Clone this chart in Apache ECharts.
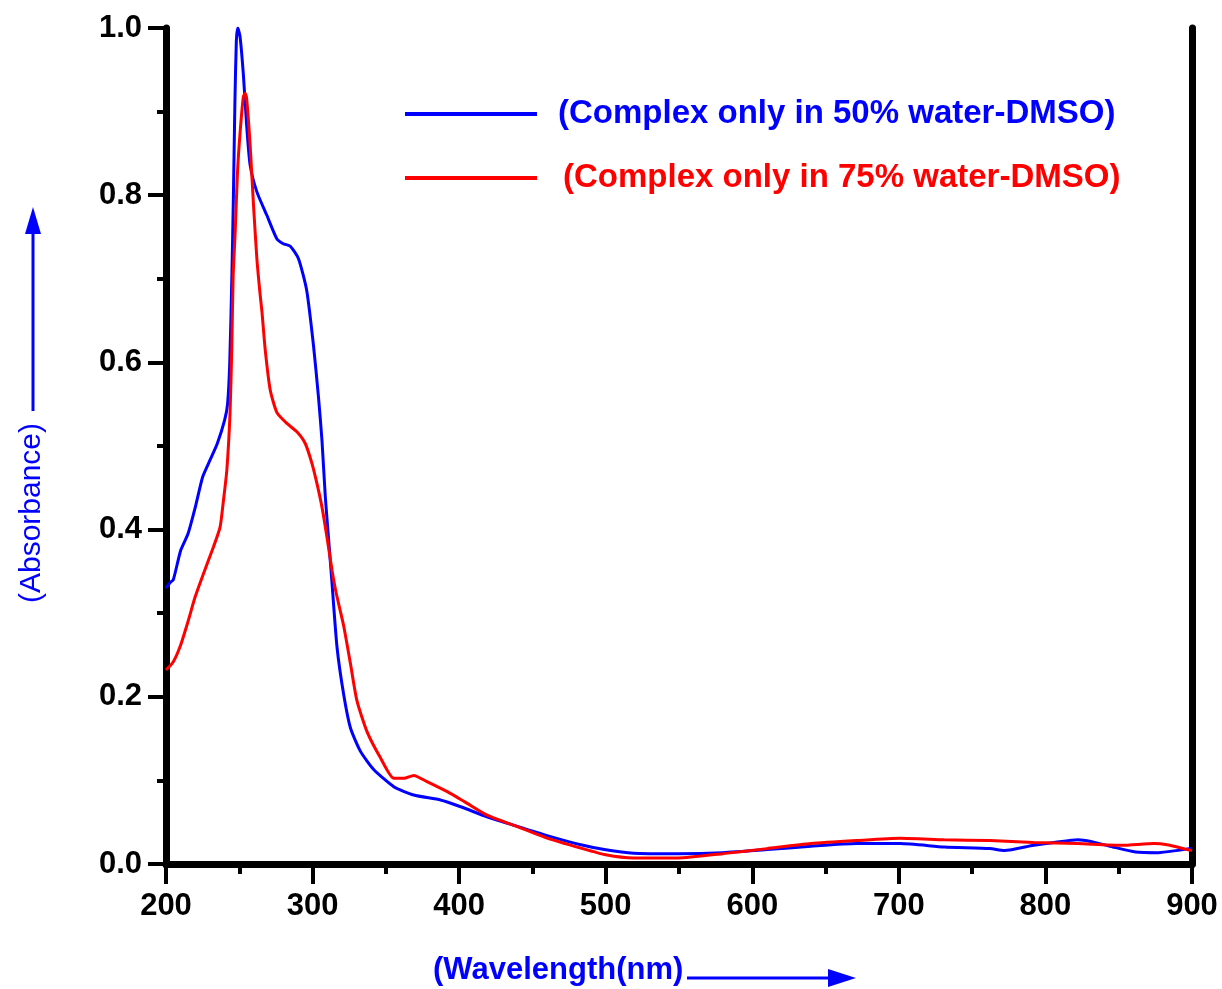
<!DOCTYPE html>
<html>
<head>
<meta charset="utf-8">
<title>UV-Vis absorbance</title>
<script src="https://cdn.jsdelivr.net/npm/echarts@6/dist/echarts.min.js"></script>
<style>
  html, body { margin: 0; padding: 0; background: #ffffff; }
  #chart { width: 1222px; height: 989px; }
</style>
</head>
<body>
<div id="chart"></div>
<script>
// Absorption spectra, wavelength in nm
const wl50 = [200, 203, 205, 210, 215, 220, 225, 230, 235, 240, 242, 243.5, 245, 246, 247, 248, 249, 250.5,
  252.8, 255, 257.4, 262, 268.8, 275.6, 280, 284.8, 290.4, 296, 300.7, 304, 306.4, 308.7, 311, 313.3,
  316.7, 321.2, 325.8, 332.6, 341.7, 355.4, 369, 387.3, 401, 419, 437, 460, 483, 500, 519, 549.5, 580,
  610, 640, 671, 701, 731, 762, 772, 792, 807, 822, 831, 846, 861.5, 877, 889, 900];
const abs50 = [0.330, 0.337, 0.340, 0.375, 0.395, 0.427, 0.463, 0.483, 0.503, 0.531, 0.550, 0.600, 0.708, 0.800, 0.910, 0.985, 1.000, 0.990,
  0.944, 0.884, 0.836, 0.804, 0.776, 0.748, 0.742, 0.739, 0.724, 0.686, 0.619, 0.559, 0.507, 0.439, 0.387, 0.335,
  0.259, 0.203, 0.163, 0.135, 0.113, 0.0925, 0.0825, 0.0765, 0.0685, 0.0565, 0.0465, 0.034, 0.023, 0.017, 0.013, 0.0124, 0.0136,
  0.0172, 0.0212, 0.0244, 0.0244, 0.0204, 0.0184, 0.016, 0.0224, 0.026, 0.029, 0.027, 0.0204, 0.0144, 0.0136, 0.016, 0.019];

const wl75 = [200, 205, 210, 215, 219.8, 225.5, 232.3, 236.9, 239.2, 241.5, 243.7, 244.9, 245.8, 247.2, 248.8, 250.6,
  252.8, 254, 255, 257.4, 259.7, 262, 264, 265.5, 267.7, 271.1, 275.7, 282.5, 289.3, 295, 299.6, 303, 306.4,
  309.8, 313.3, 316, 321.2, 325.8, 330.3, 337.2, 346.3, 355.4, 362.2, 369, 378, 391.9, 405.5, 419, 437, 460,
  483, 500, 519, 549.5, 580, 610, 640, 671, 701, 731, 762, 792, 822, 852, 874, 883, 895, 900];
const abs75 = [0.232, 0.242, 0.262, 0.290, 0.319, 0.347, 0.379, 0.403, 0.435, 0.471, 0.540, 0.619, 0.703, 0.756, 0.828, 0.876,
  0.918, 0.922, 0.916, 0.860, 0.788, 0.724, 0.685, 0.660, 0.615, 0.567, 0.540, 0.527, 0.517, 0.503, 0.479, 0.455, 0.427,
  0.391, 0.351, 0.325, 0.285, 0.240, 0.195, 0.158, 0.127, 0.1025, 0.1025, 0.106, 0.0986, 0.0865, 0.0725, 0.0585, 0.0465, 0.031,
  0.019, 0.011, 0.0072, 0.0072, 0.0124, 0.0184, 0.0244, 0.028, 0.0308, 0.029, 0.028, 0.0256, 0.0244, 0.0224, 0.0244, 0.023, 0.018, 0.016];

const seriesNames = ['(Complex only in 50% water-DMSO)', '(Complex only in 75% water-DMSO)'];
const seriesColors = ['#0000ff', '#ff0000'];
const xTitle = '(Wavelength(nm)';
const yTitle = '(Absorbance)';

function pairs(xs, ys) { return xs.map((x, i) => [x, ys[i]]); }

const FONT = '"Liberation Sans", Arial, sans-serif';
const axisLineStyle = { color: '#000', width: 7 };

const chart = echarts.init(document.getElementById('chart'), null, { renderer: 'canvas' });
chart.setOption({
  backgroundColor: '#ffffff',
  animation: false,
  grid: { left: 166, right: 30, top: 28, bottom: 125 },
  legend: {
    orient: 'vertical',
    left: 405,
    top: 94,
    padding: 0,
    icon: 'rect',
    itemWidth: 132,
    itemHeight: 4,
    itemGap: 24,
    textStyle: { fontFamily: FONT, fontWeight: 'bold', fontSize: 33, lineHeight: 40 },
    data: [
      { name: seriesNames[0], textStyle: { color: seriesColors[0], padding: [0, 0, 0, 16] } },
      { name: seriesNames[1], textStyle: { color: seriesColors[1], padding: [0, 0, 0, 21] } }
    ]
  },
  xAxis: [{
    type: 'value', min: 200, max: 900, interval: 100, position: 'bottom',
    axisLine: { show: true, lineStyle: axisLineStyle },
    axisTick: { show: true, inside: false, length: 20, lineStyle: { color: '#000', width: 4 } },
    minorTick: { show: true, splitNumber: 2, length: 10, lineStyle: { color: '#000', width: 4 } },
    axisLabel: { margin: 27, color: '#000', fontFamily: FONT, fontWeight: 'bold', fontSize: 31 },
    splitLine: { show: false }
  }, {
    type: 'value', min: 200, max: 900, interval: 100, position: 'top',
    axisLine: { show: true, lineStyle: axisLineStyle },
    axisTick: { show: false },
    axisLabel: { show: false },
    splitLine: { show: false }
  }],
  yAxis: [{
    type: 'value', min: 0, max: 1, interval: 0.2, position: 'left',
    axisLine: { show: true, lineStyle: axisLineStyle },
    axisTick: { show: true, inside: false, length: 18, lineStyle: { color: '#000', width: 4 } },
    minorTick: { show: true, splitNumber: 2, length: 9, lineStyle: { color: '#000', width: 4 } },
    axisLabel: { margin: 24, color: '#000', fontFamily: FONT, fontWeight: 'bold', fontSize: 31,
      formatter: v => v.toFixed(1) },
    splitLine: { show: false }
  }, {
    type: 'value', min: 0, max: 1, interval: 0.2, position: 'right',
    axisLine: { show: true, lineStyle: axisLineStyle },
    axisTick: { show: false },
    axisLabel: { show: false },
    splitLine: { show: false }
  }],
  series: [{
    name: seriesNames[0], type: 'line', data: pairs(wl50, abs50),
    showSymbol: false, symbol: 'none', smooth: 0.2,
    lineStyle: { color: seriesColors[0], width: 3 }, itemStyle: { color: seriesColors[0] },
    z: 3
  }, {
    name: seriesNames[1], type: 'line', data: pairs(wl75, abs75),
    showSymbol: false, symbol: 'none', smooth: 0.2,
    lineStyle: { color: seriesColors[1], width: 3 }, itemStyle: { color: seriesColors[1] },
    z: 4
  }],
  graphic: [
    // vertical axis title with upward arrow
    { type: 'text', x: 32, y: 513, rotation: Math.PI / 2,
      style: { text: yTitle, fill: '#0000ff', font: '30px ' + FONT, textAlign: 'center', textVerticalAlign: 'middle' } },
    { type: 'line', shape: { x1: 33, y1: 411, x2: 33, y2: 228 }, style: { stroke: '#0000ff', lineWidth: 3 } },
    { type: 'polygon', shape: { points: [[33, 207], [25, 234], [41, 234]] }, style: { fill: '#0000ff' } },
    // horizontal axis title with rightward arrow
    { type: 'text', x: 433, y: 970,
      style: { text: xTitle, fill: '#0000ff', font: 'bold 31px ' + FONT, textAlign: 'left', textVerticalAlign: 'middle' } },
    { type: 'line', shape: { x1: 687, y1: 978, x2: 835, y2: 978 }, style: { stroke: '#0000ff', lineWidth: 3 } },
    { type: 'polygon', shape: { points: [[856, 978], [828, 969], [828, 987]] }, style: { fill: '#0000ff' } }
  ]
});
</script>
</body>
</html>
